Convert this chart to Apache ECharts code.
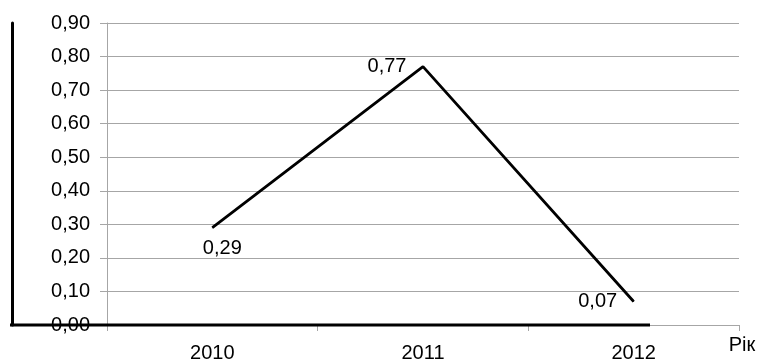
<!DOCTYPE html>
<html>
<head>
<meta charset="utf-8">
<script src="https://cdn.jsdelivr.net/npm/echarts@6/dist/echarts.min.js"></script>
<style>
html,body{margin:0;padding:0;background:#fff;}
#chart{width:760px;height:363px;}
</style>
</head>
<body>
<div id="chart"></div>
<script>
// Data
const categories = ['2010', '2011', '2012'];
const values = [0.29, 0.77, 0.07];
const yTicks = [0, 0.1, 0.2, 0.3, 0.4, 0.5, 0.6, 0.7, 0.8, 0.9];
const xAxisName = 'Рік';

// Label placement (styling)
const labelOffsets = [[10, 21], [-36, 0], [-36, 0]];

const FONT = "'Liberation Sans', Arial, sans-serif";
const GRID_COLOR = '#a6a6a6';
const TEXT_COLOR = '#000';
const FS = 20;

const chart = echarts.init(document.getElementById('chart'), null, {renderer: 'canvas'});
const fmt = v => v.toFixed(2).replace('.', ',');

const option = {
  backgroundColor: '#fff',
  animation: false,
  grid: {left: 107, right: 21, top: 23, bottom: 36, containLabel: false},
  xAxis: {
    type: 'category',
    data: categories,
    boundaryGap: true,
    axisLine: {show: true, lineStyle: {color: GRID_COLOR, width: 1}},
    axisTick: {show: true, alignWithLabel: false, length: 6, lineStyle: {color: GRID_COLOR}},
    axisLabel: {color: TEXT_COLOR, fontFamily: FONT, fontSize: FS, margin: 18},
    splitLine: {show: false},
    name: xAxisName,
    nameLocation: 'end',
    nameGap: 3,
    nameTextStyle: {color: TEXT_COLOR, fontFamily: FONT, fontSize: FS, align: 'center', verticalAlign: 'top', padding: [10, 0, 0, 0]}
  },
  yAxis: [{
    type: 'value',
    min: yTicks[0],
    max: yTicks[yTicks.length - 1],
    interval: 0.1,
    axisLine: {show: true, lineStyle: {color: GRID_COLOR, width: 1}},
    axisTick: {show: true, length: 7, lineStyle: {color: GRID_COLOR}},
    axisLabel: {color: TEXT_COLOR, fontFamily: FONT, fontSize: FS, margin: 17, formatter: fmt},
    splitLine: {show: true, lineStyle: {color: GRID_COLOR, width: 1}}
  }, {
    type: 'value',
    position: 'left',
    offset: 95,
    min: yTicks[0],
    max: yTicks[yTicks.length - 1],
    interval: 0.1,
    axisLine: {show: true, onZero: false, lineStyle: {color: '#000', width: 3}},
    axisTick: {show: false},
    axisLabel: {show: false},
    splitLine: {show: false}
  }],
  series: [{
    type: 'line',
    data: values.map((v, i) => ({
      value: v,
      label: {offset: labelOffsets[i]}
    })),
    showSymbol: true,
    symbol: 'circle',
    symbolSize: 1,
    itemStyle: {color: '#000'},
    lineStyle: {color: '#000', width: 2.8},
    label: {
      show: true,
      position: 'inside',
      color: TEXT_COLOR,
      fontFamily: FONT,
      fontSize: FS,
      formatter: p => fmt(p.value)
    },
    z: 5
  }]
};
chart.setOption(option);

// decorative thick black baseline partially across the chart
const y0 = chart.convertToPixel({yAxisIndex: 0}, 0);
chart.setOption({
  graphic: [{
    type: 'line',
    shape: {x1: 10, y1: y0, x2: 650, y2: y0},
    style: {stroke: '#000', lineWidth: 3},
    z: 10
  }]
});
</script>
</body>
</html>
